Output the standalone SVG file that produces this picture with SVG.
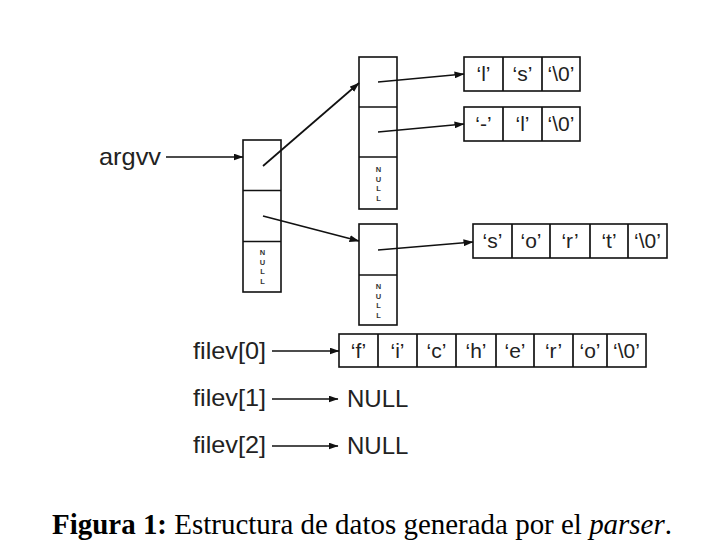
<svg xmlns="http://www.w3.org/2000/svg" width="718" height="556" viewBox="0 0 718 556">
<defs>
<marker id="ah" markerWidth="10" markerHeight="7" refX="9.5" refY="3.5" orient="auto" markerUnits="userSpaceOnUse">
<path d="M0,0 L10,3.5 L0,7 z" fill="#111"/>
</marker>
<style>
.box{fill:#fff;stroke:#111;stroke-width:1.6}
.ln{stroke:#111;stroke-width:1.7;fill:none}
.lbl{font-family:"Liberation Sans",Arial,sans-serif;font-size:24px;fill:#222}
.ch{font-family:"Liberation Sans",Arial,sans-serif;font-size:21px;fill:#222;text-anchor:middle}
.nl{font-family:"Liberation Sans",Arial,sans-serif;font-size:7.5px;font-weight:bold;fill:#333;text-anchor:middle}
.cap{font-family:"Liberation Serif","Times New Roman",serif;font-size:29px;fill:#000}
</style>
</defs>
<rect width="718" height="556" fill="#fff"/>

<g id="argvv">
<text class="lbl" x="99" y="165" textLength="62" lengthAdjust="spacingAndGlyphs">argvv</text>
</g>

<g id="argv-array">
<rect class="box" x="243" y="140" width="38" height="152"/>
<line class="ln" x1="243" y1="190.5" x2="281" y2="190.5"/>
<line class="ln" x1="243" y1="241.5" x2="281" y2="241.5"/>
<text class="nl" x="262.5" y="255">N</text>
<text class="nl" x="262.5" y="264.5">U</text>
<text class="nl" x="262.5" y="274">L</text>
<text class="nl" x="262.5" y="283.5">L</text>
</g>

<g id="cmd1-array">
<rect class="box" x="359" y="57" width="38" height="152"/>
<line class="ln" x1="359" y1="107" x2="397" y2="107"/>
<line class="ln" x1="359" y1="157" x2="397" y2="157"/>
<text class="nl" x="378.5" y="172">N</text>
<text class="nl" x="378.5" y="181.5">U</text>
<text class="nl" x="378.5" y="191">L</text>
<text class="nl" x="378.5" y="200.5">L</text>
</g>

<g id="cmd2-array">
<rect class="box" x="359" y="224" width="38" height="101"/>
<line class="ln" x1="359" y1="275" x2="397" y2="275"/>
<text class="nl" x="378.5" y="289">N</text>
<text class="nl" x="378.5" y="298.5">U</text>
<text class="nl" x="378.5" y="308">L</text>
<text class="nl" x="378.5" y="317.5">L</text>
</g>

<g id="str-ls">
<rect class="box" x="464" y="57" width="116" height="34"/>
<line class="ln" x1="503" y1="57" x2="503" y2="91"/>
<line class="ln" x1="542" y1="57" x2="542" y2="91"/>
<text class="ch" x="483.5" y="81">‘l’</text>
<text class="ch" x="522.5" y="81">‘s’</text>
<text class="ch" x="561" y="81">‘\0’</text>
</g>

<g id="str-l">
<rect class="box" x="464" y="107" width="116" height="34"/>
<line class="ln" x1="503" y1="107" x2="503" y2="141"/>
<line class="ln" x1="542" y1="107" x2="542" y2="141"/>
<text class="ch" x="483.5" y="131">‘-’</text>
<text class="ch" x="522.5" y="131">‘l’</text>
<text class="ch" x="561" y="131">‘\0’</text>
</g>

<g id="str-sort">
<rect class="box" x="473" y="224" width="194" height="34"/>
<line class="ln" x1="512" y1="224" x2="512" y2="258"/>
<line class="ln" x1="550" y1="224" x2="550" y2="258"/>
<line class="ln" x1="590" y1="224" x2="590" y2="258"/>
<line class="ln" x1="628" y1="224" x2="628" y2="258"/>
<text class="ch" x="492.5" y="248">‘s’</text>
<text class="ch" x="531" y="248">‘o’</text>
<text class="ch" x="570" y="248">‘r’</text>
<text class="ch" x="609" y="248">‘t’</text>
<text class="ch" x="647.5" y="248">‘\0’</text>
</g>

<g id="filev0">
<text class="lbl" x="193" y="359" textLength="73" lengthAdjust="spacingAndGlyphs">filev[0]</text>
</g>
<g id="str-fichero">
<rect class="box" x="339" y="334" width="307" height="33"/>
<line class="ln" x1="378" y1="334" x2="378" y2="367"/>
<line class="ln" x1="417" y1="334" x2="417" y2="367"/>
<line class="ln" x1="456" y1="334" x2="456" y2="367"/>
<line class="ln" x1="496" y1="334" x2="496" y2="367"/>
<line class="ln" x1="534" y1="334" x2="534" y2="367"/>
<line class="ln" x1="573" y1="334" x2="573" y2="367"/>
<line class="ln" x1="607" y1="334" x2="607" y2="367"/>
<text class="ch" x="358.5" y="358">‘f’</text>
<text class="ch" x="397.5" y="358">‘i’</text>
<text class="ch" x="436.5" y="358">‘c’</text>
<text class="ch" x="476" y="358">‘h’</text>
<text class="ch" x="515" y="358">‘e’</text>
<text class="ch" x="553.5" y="358">‘r’</text>
<text class="ch" x="590" y="358">‘o’</text>
<text class="ch" x="626.5" y="358">‘\0’</text>
</g>

<g id="filev1">
<text class="lbl" x="193" y="406" textLength="73" lengthAdjust="spacingAndGlyphs">filev[1]</text>
<text class="lbl" x="347" y="407">NULL</text>
</g>
<g id="filev2">
<text class="lbl" x="193" y="453" textLength="73" lengthAdjust="spacingAndGlyphs">filev[2]</text>
<text class="lbl" x="347" y="454">NULL</text>
</g>

<g id="connectors">
<line class="ln" x1="166" y1="157" x2="243" y2="157" marker-end="url(#ah)"/>
<line class="ln" x1="263" y1="166" x2="359" y2="83" marker-end="url(#ah)"/>
<line class="ln" x1="263" y1="216" x2="359" y2="241" marker-end="url(#ah)"/>
<line class="ln" x1="378" y1="82" x2="464" y2="74" marker-end="url(#ah)"/>
<line class="ln" x1="378" y1="132" x2="464" y2="124" marker-end="url(#ah)"/>
<line class="ln" x1="378" y1="250" x2="473" y2="242" marker-end="url(#ah)"/>
<line class="ln" x1="272" y1="351" x2="339" y2="351" marker-end="url(#ah)"/>
<line class="ln" x1="272" y1="399" x2="338" y2="399" marker-end="url(#ah)"/>
<line class="ln" x1="272" y1="446" x2="338" y2="446" marker-end="url(#ah)"/>
</g>

<g id="caption">
<text class="cap" x="52" y="534" textLength="620" lengthAdjust="spacingAndGlyphs"><tspan font-weight="bold">Figura 1:</tspan> Estructura de datos generada por el <tspan font-style="italic">parser</tspan>.</text>
</g>
</svg>
